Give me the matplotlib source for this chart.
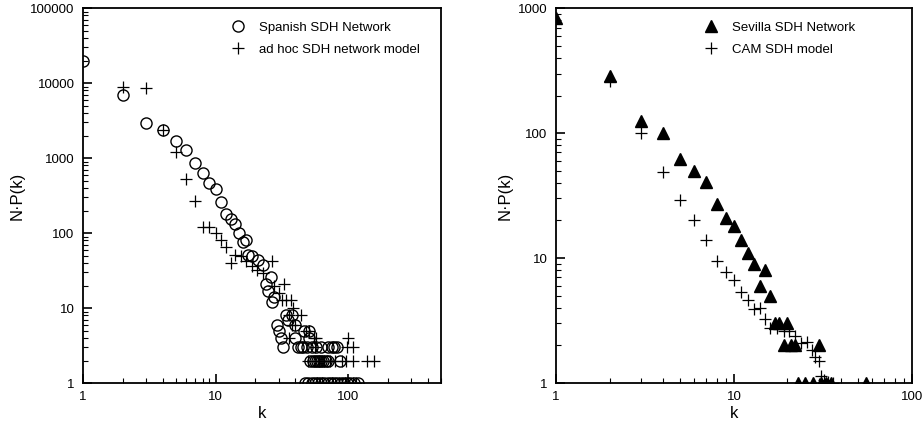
import numpy as np
import matplotlib.pyplot as plt
from matplotlib.ticker import FixedLocator, NullFormatter

plt.rcParams['font.family'] = ['Liberation Sans', 'DejaVu Sans']

# left panel: Spanish SDH network (circles) vs ad hoc model (plus)
k_spain = [1, 2, 3, 4, 5, 6, 7, 8, 9, 10, 11, 12, 13, 14, 15, 16, 17, 17.6, 19, 21, 23,
           24, 25, 26, 26.5, 27.5, 29, 30, 31, 32.5, 34, 35, 38, 40, 40, 46.5, 51, 51,
           42, 44, 46, 49, 53, 57, 62, 70, 75, 78, 83,
           52, 54, 56, 58, 60, 62, 65, 68, 71, 87,
           47, 50, 53, 56, 59, 62, 66, 70, 74, 78, 83, 88, 93, 98, 104, 110, 118]
n_spain = [20000, 7000, 2900, 2400, 1700, 1270, 870, 630, 470, 390, 260, 180, 154, 133, 100, 75, 81, 51, 49, 44, 37,
           21, 17, 26, 12, 14, 6, 5, 4, 3, 8, 7, 8, 6, 4, 5, 5, 4,
           3, 3, 3, 3, 3, 3, 3, 3, 3, 3, 3,
           2, 2, 2, 2, 2, 2, 2, 2, 2, 2,
           1, 1, 1, 1, 1, 1, 1, 1, 1, 1, 1, 1, 1, 1, 1, 1, 1]

k_adhoc = [2, 3, 4, 5, 6, 7, 8, 9, 10, 11, 12, 13, 14, 15.5, 17, 19, 20.5, 23, 26.5,
           27.4, 30, 31.5, 33, 34, 37, 38.6, 36, 44, 40, 38, 48, 51, 55, 57, 36,
           100, 99, 109, 56,
           50, 60, 66, 73, 80, 90, 97, 108, 138, 158,
           58, 64, 75, 85, 95, 100, 108, 115]
n_adhoc = [9000, 8500, 2400, 1200, 530, 270, 119, 122, 100, 80, 65, 40, 51, 50, 42, 36, 32, 29, 42,
           20, 16, 13, 21, 13, 13, 10, 8, 8, 6, 6, 5, 5, 4, 4, 4,
           4, 3, 3, 3,
           2, 2, 2, 2, 2, 2, 2, 2, 2, 2,
           1, 1, 1, 1, 1, 1, 1, 1]

# right panel: Sevilla SDH network (triangles) vs CAM model (plus)
k_sevilla = [1, 2, 3, 4, 5, 6, 7, 8, 9, 10, 11, 12, 13, 14, 15, 16, 17, 18, 20,
             19, 21, 22, 30, 23, 25, 28, 31, 33, 35, 55]
n_sevilla = [830, 288, 124, 100, 62, 50, 41, 27, 21, 18, 14, 11, 9, 6, 8, 5, 3, 3, 3,
             2, 2, 2, 2, 1, 1, 1, 1, 1, 1, 1]

k_cam = [2, 3, 4, 5, 6, 7, 8, 9, 10, 11, 12, 13, 14, 15, 16, 17.4, 19, 20.5, 22, 23.7,
         25.6, 27.4, 28.7, 30, 31, 32, 34, 36]
n_cam = [260, 100, 49, 29, 20, 14, 9.4, 7.8, 6.7, 5.4, 4.6, 3.9, 4.0, 3.25, 2.75, 2.75, 2.6, 2.6, 2.4, 2.1,
         2.15, 1.85, 1.63, 1.5, 1.13, 1.05, 1.02, 1.0]

fig = plt.figure(figsize=(9.22, 4.29), dpi=100)
ax1 = fig.add_axes([0.090, 0.107, 0.388, 0.874])
ax2 = fig.add_axes([0.603, 0.107, 0.386, 0.874])

ax1.plot(k_spain, n_spain, 'o', ms=8, mfc='none', mec='black', mew=1.0, ls='none',
         label='Spanish SDH Network')
ax1.plot(k_adhoc, n_adhoc, '+', ms=8, mec='black', mew=0.9, ls='none',
         label='ad hoc SDH network model')
ax1.set_xlim(1, 500)
ax1.set_ylim(1, 100000)

ax2.plot(k_sevilla, n_sevilla, '^', ms=9, mfc='black', mec='black', ls='none',
         label='Sevilla SDH Network')
ax2.plot(k_cam, n_cam, '+', ms=8, mec='black', mew=0.9, ls='none',
         label='CAM SDH model')
ax2.set_xlim(1, 100)
ax2.set_ylim(1, 1000)

for ax, yt in ((ax1, [1, 10, 100, 1000, 10000, 100000]), (ax2, [1, 10, 100, 1000])):
    ax.set_xscale('log')
    ax.set_yscale('log')
    ax.yaxis.set_major_locator(FixedLocator(yt))
    ax.set_yticklabels([str(v) for v in yt])
    ax.yaxis.set_minor_formatter(NullFormatter())
    ax.xaxis.set_minor_formatter(NullFormatter())
    ax.tick_params(which='both', direction='in', top=False, right=False, labelsize=9.5)
    ax.tick_params(which='major', length=6.5, width=1.2, pad=6)
    ax.tick_params(which='minor', length=3.5, width=0.8)
    for s in ax.spines.values():
        s.set_linewidth(1.3)
    ax.set_xlabel('k', fontsize=12, labelpad=2)
    ax.set_ylabel('N\u00b7P(k)', fontsize=12, labelpad=4)
    ax.legend(loc='upper left', bbox_to_anchor=(0.375, 0.985), frameon=False, fontsize=9.5,
              handletextpad=0.6, labelspacing=0.75, borderaxespad=0.2)

ax1.set_xticks([1, 10, 100])
ax1.set_xticklabels(['1', '10', '100'])
ax2.set_xticks([1, 10, 100])
ax2.set_xticklabels(['1', '10', '100'])

fig.savefig('out.png', dpi=100)
